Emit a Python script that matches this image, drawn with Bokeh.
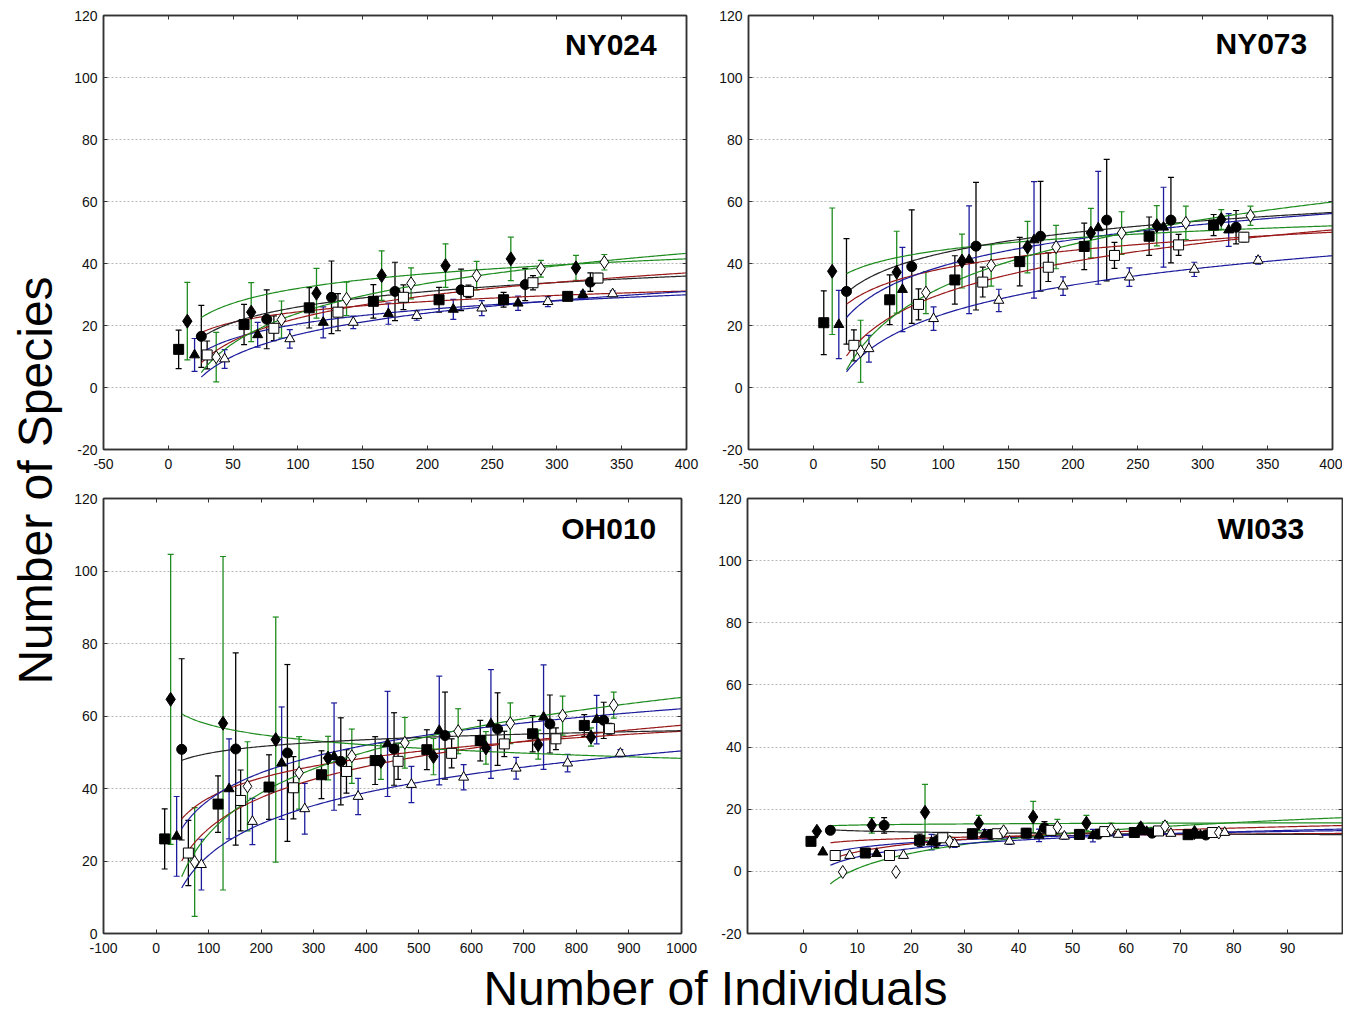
import numpy as np
from math import pi
from bokeh.plotting import figure
from bokeh.models import ColumnDataSource, Whisker, TeeHead, Range1d, FixedTicker, Label, LinearAxis
from bokeh.layouts import row, column
from bokeh.embed import file_html
from bokeh.resources import INLINE
from bokeh.core.properties import value

# ---------------- data ----------------
# series keys: FSQ = filled square, FTRI = filled triangle, FDIA = filled diamond,
# FCIR = filled circle, OSQ = open square, ODIA = open diamond, OTRI = open triangle

# NY024
NY024_FSQ_X = [8, 58.5, 108.8, 158.3, 209, 258.8, 308.3]
NY024_FSQ_Y = [12.3, 20.3, 25.7, 27.8, 28.3, 28.3, 29.4]
NY024_FSQ_E = [6.2, 6.5, 6.5, 5.4, 4, 2.4, 0]
NY024_FTRI_X = [20.3, 69, 119.6, 169.9, 220, 270, 320]
NY024_FTRI_Y = [10.5, 17, 21, 23.8, 25.2, 27.2, 30]
NY024_FTRI_E = [5.3, 4, 5, 3.4, 3.2, 2.3, 1]
NY024_FDIA_X = [14.7, 64, 114.4, 164.7, 214, 264.4, 314.7]
NY024_FDIA_Y = [21.4, 24.3, 30.4, 36.1, 39.3, 41.5, 38.6]
NY024_FDIA_E = [12.5, 9.5, 8, 8, 7, 7, 4]
NY024_FCIR_X = [25.5, 76, 126, 175, 226, 275.5, 325.8]
NY024_FCIR_Y = [16.5, 22, 29.1, 31, 31.5, 33.2, 34]
NY024_FCIR_E = [10, 9.5, 11.7, 9.4, 6.7, 5.2, 3]
NY024_OSQ_X = [30, 81.5, 131, 181.5, 231.7, 281.5, 331.7]
NY024_OSQ_Y = [10.5, 19.1, 24.3, 29.1, 31, 33.8, 35.3]
NY024_OSQ_E = [4.5, 4, 6, 4, 2, 2.3, 1.5]
NY024_ODIA_X = [37, 87.4, 137.6, 187.4, 238, 287.6, 336.6]
NY024_ODIA_Y = [9.8, 21.9, 28.6, 33.6, 36.1, 38.3, 40.4]
NY024_ODIA_E = [8, 6, 5.4, 5, 4.6, 2.7, 2.5]
NY024_OTRI_X = [43.5, 93.8, 142.8, 191.8, 242, 293, 343]
NY024_OTRI_Y = [9.2, 15.7, 21, 23.2, 25.6, 27.7, 30.2]
NY024_OTRI_E = [3, 3, 2, 1.5, 2.4, 1.6, 1]

# NY073
NY073_FSQ_X = [8, 58.8, 109, 159, 208.7, 258.7, 308.4]
NY073_FSQ_Y = [20.9, 28.3, 34.7, 40.6, 45.5, 48.8, 52.4]
NY073_FSQ_E = [10.3, 8, 7.8, 7.8, 7.5, 6.2, 3.4]
NY073_FTRI_X = [19.6, 68.6, 120, 170, 219.5, 269.8, 320]
NY073_FTRI_Y = [20.3, 31.6, 41.2, 47.6, 51.5, 51.7, 50.8]
NY073_FTRI_E = [11, 13.6, 17.4, 18.8, 18.2, 12.9, 5.3]
NY073_FDIA_X = [14.5, 64.2, 114.5, 165, 213.8, 264.6, 314.3]
NY073_FDIA_Y = [37.5, 37.2, 40.8, 45.3, 49.8, 52.2, 54.2]
NY073_FDIA_E = [20.4, 13.2, 8.7, 8.3, 8, 6.5, 3.2]
NY073_FCIR_X = [25.5, 75.8, 125.3, 175, 226, 275.5, 325.7]
NY073_FCIR_Y = [31, 39, 45.6, 48.8, 54, 54, 51.7]
NY073_FCIR_E = [17, 18.3, 20.6, 17.7, 19.6, 13.8, 5.4]
NY073_OSQ_X = [31.2, 81, 130.5, 181, 232, 281.4, 331.7]
NY073_OSQ_Y = [13.6, 26.8, 34, 38.8, 42.6, 46, 48.5]
NY073_OSQ_E = [5, 5, 4.8, 4.6, 4.2, 3.4, 1.5]
NY073_ODIA_X = [36.4, 86.7, 137, 187, 237.5, 287, 336.8]
NY073_ODIA_Y = [11.7, 30.6, 39.4, 45.3, 49.8, 53.1, 55.4]
NY073_ODIA_E = [10, 6.8, 6.7, 7, 6.9, 5.4, 3.1]
NY073_OTRI_X = [42.8, 92.6, 142.9, 192.4, 243.5, 293.5, 342.7]
NY073_OTRI_Y = [12.5, 22.2, 28.1, 32.7, 35.6, 38.1, 41]
NY073_OTRI_E = [4.3, 3.8, 3.6, 3, 3, 2.3, 1.2]

# OH010
OH010_FSQ_X = [16.4, 118, 215, 314.8, 417, 515.4, 617, 716.6, 815]
OH010_FSQ_Y = [26.1, 35.7, 40.4, 43.8, 47.7, 50.7, 53.2, 55.1, 57.4]
OH010_FSQ_E = [8.3, 7.8, 8.9, 6.6, 6.6, 5.5, 5.6, 5, 3]
OH010_FTRI_X = [39.2, 139, 239, 338.8, 440.6, 539, 637.3, 737.5, 838.6]
OH010_FTRI_Y = [26.8, 39.9, 47, 48.8, 52.3, 56, 57.8, 59.7, 59]
OH010_FTRI_E = [11, 13.8, 15.5, 14.8, 14.5, 15, 15, 14.4, 6.7]
OH010_FDIA_X = [27.8, 127.5, 227.8, 327.4, 428, 528, 627.8, 727.3, 827.8]
OH010_FDIA_Y = [64.6, 58, 53.5, 48.4, 47.5, 48.8, 51.2, 52.1, 54.2]
OH010_FDIA_E = [40, 46, 33.8, 6, 5, 5, 4.5, 4, 2.5]
OH010_FCIR_X = [48.8, 151.6, 250, 351.6, 453, 550, 650, 749.5, 852]
OH010_FCIR_Y = [50.8, 50.9, 49.8, 47.5, 50.9, 54.6, 56.4, 57.8, 58.8]
OH010_FCIR_E = [25, 26.5, 24.4, 12, 10, 12, 10, 8, 5]
OH010_OSQ_X = [61.5, 161, 261.5, 362.4, 460.7, 562.5, 662.8, 761, 862.8]
OH010_OSQ_Y = [22.2, 36.7, 40.2, 44.7, 47.5, 49.7, 52.3, 53.7, 56.5]
OH010_OSQ_E = [9, 8.4, 8.6, 6, 5, 4, 3.5, 3, 1.5]
OH010_ODIA_X = [73.5, 174, 272.2, 372.6, 473.5, 575, 674.3, 773.7, 871]
OH010_ODIA_Y = [19.7, 40.6, 44.3, 48.9, 52.6, 55.8, 58, 60.1, 63]
OH010_ODIA_E = [15, 12.3, 10, 7.5, 7, 6.2, 5.6, 5.4, 3.6]
OH010_OTRI_X = [86.3, 183.4, 283, 384.6, 486, 585.4, 685.3, 783.2, 883.7]
OH010_OTRI_Y = [19, 30.9, 34.4, 37.8, 41.1, 43.1, 45.6, 47, 49.7]
OH010_OTRI_E = [7, 6.4, 7, 5, 5, 3.5, 3, 2.4, 1]

# WI033
WI033_FSQ_X = [1.4, 11.5, 21.6, 31.4, 41.4, 51.3, 61.5, 71.5]
WI033_FSQ_Y = [9.65, 5.9, 10, 12.1, 12.3, 11.9, 12.5, 11.8]
WI033_FSQ_E = [0, 0, 2, 1.5, 1.5, 1.5, 1, 0.5]
WI033_FTRI_X = [3.6, 13.6, 23.8, 33.7, 43.8, 53.8, 63.8, 73.8]
WI033_FTRI_Y = [6.2, 5.7, 9.4, 11.9, 11.6, 11.5, 12.8, 11.6]
WI033_FTRI_E = [0, 0, 2.5, 1.5, 2, 2, 1, 0.5]
WI033_FDIA_X = [2.5, 12.7, 22.6, 32.6, 42.7, 52.6, 62.7, 72.7]
WI033_FDIA_Y = [12.9, 14.8, 19, 15.5, 17.5, 15.5, 14, 12.5]
WI033_FDIA_E = [0, 2.5, 9, 2.5, 5, 2.5, 1.5, 0.8]
WI033_FCIR_X = [5, 15, 24.7, 34.8, 44.8, 54.8, 64.8, 74.8]
WI033_FCIR_Y = [13.2, 14.8, 9.7, 11.9, 14, 12, 12.3, 11.7]
WI033_FCIR_E = [0, 2.5, 2, 1.5, 2, 1.5, 1, 0.5]
WI033_OSQ_X = [5.9, 16, 25.9, 36, 46, 56, 66, 76]
WI033_OSQ_Y = [5.1, 5.1, 10.8, 12.1, 13.2, 12.8, 13, 12.5]
WI033_OSQ_E = [0, 0, 1, 1, 1, 1, 0.8, 0.5]
WI033_ODIA_X = [7.3, 17.2, 27.2, 37.2, 47.2, 57.2, 67.2, 77.2]
WI033_ODIA_Y = [-0.2, -0.2, 9.5, 12.9, 14.2, 13.5, 14.5, 12.5]
WI033_ODIA_E = [0, 0, 1.5, 1, 2.5, 2, 1.5, 0.6]
WI033_OTRI_X = [8.6, 18.6, 28.1, 38.3, 48.5, 58.5, 68.3, 78.3]
WI033_OTRI_Y = [5.1, 5.1, 8.9, 9.7, 11.3, 11.9, 12.2, 12.5]
WI033_OTRI_E = [0, 0, 1.2, 1, 1, 0.8, 0.6, 0.4]

# axis ticks
TICKS_X_NY = [-50, 0, 50, 100, 150, 200, 250, 300, 350, 400]
TICKS_X_OH = [-100, 0, 100, 200, 300, 400, 500, 600, 700, 800, 900, 1000]
TICKS_X_WI = [0, 10, 20, 30, 40, 50, 60, 70, 80, 90]
TICKS_Y_A = [-20, 0, 20, 40, 60, 80, 100, 120]
TICKS_Y_B = [0, 20, 40, 60, 80, 100, 120]

# ---------------- styles ----------------
GREEN = "#1e8c1e"
BLUE = "#1c1c9c"
RED = "#9a1a1a"
BLACK = "#000000"
CURVE_BLACK = "#262626"
FRAME = "#333333"
FONT = "Liberation Sans"

STYLE = {
    "FSQ": dict(marker="square", size=10, fill=BLACK, err=BLACK, curve=RED),
    "FTRI": dict(marker="triangle", size=10, fill=BLACK, err=BLUE, curve=BLUE),
    "FDIA": dict(marker="diamond", size=14, fill=BLACK, err=GREEN, curve=GREEN),
    "FCIR": dict(marker="circle", size=10, fill=BLACK, err=BLACK, curve=CURVE_BLACK),
    "OSQ": dict(marker="square", size=10, fill="white", err=BLACK, curve=RED),
    "ODIA": dict(marker="diamond", size=13, fill="white", err=GREEN, curve=GREEN),
    "OTRI": dict(marker="triangle", size=10, fill="white", err=BLUE, curve=BLUE),
}
ORDER = ["FSQ", "FTRI", "FDIA", "FCIR", "OSQ", "ODIA", "OTRI"]


def get_data(prefix):
    g = globals()
    return {k: (g[f"{prefix}_{k}_X"], g[f"{prefix}_{k}_Y"], g[f"{prefix}_{k}_E"]) for k in ORDER}


def plain_labels(ticks):
    return {t: str(t) for t in ticks}


def panel(name, xr, yr, xticks, yticks, w, h, bl, br, bt, bb, title_x, title_y):
    data = get_data(name)
    p = figure(width=w, height=h, x_range=Range1d(*xr), y_range=Range1d(*yr),
               output_backend="svg", toolbar_location=None,
               min_border_left=bl, min_border_right=br, min_border_top=bt, min_border_bottom=bb,
               background_fill_color="white", border_fill_color="white")
    xa = p.below[0]
    ya = p.left[0]
    xa.ticker = FixedTicker(ticks=xticks)
    ya.ticker = FixedTicker(ticks=yticks)
    xa.major_label_overrides = plain_labels(xticks)
    ya.major_label_overrides = plain_labels(yticks)
    for ax in (xa, ya):
        ax.major_label_text_font = FONT
        ax.major_label_text_font_size = "14px"
        ax.major_label_text_color = "#111111"
    ya.major_label_standoff = 6
    xa.major_label_standoff = 9
    # mirror ticks on the top and right edges
    p.add_layout(LinearAxis(ticker=FixedTicker(ticks=xticks), major_label_text_alpha=0,
                            major_label_text_font_size="1px", major_label_standoff=0), "above")
    p.add_layout(LinearAxis(ticker=FixedTicker(ticks=yticks), major_label_text_alpha=0,
                            major_label_text_font_size="1px", major_label_standoff=0), "right")
    p.axis.major_tick_in = 4
    p.axis.major_tick_out = 0
    p.axis.minor_tick_line_color = None
    p.axis.axis_line_color = FRAME
    p.axis.axis_line_width = 1.5
    p.axis.major_tick_line_color = FRAME
    p.xgrid.grid_line_color = None
    p.ygrid.grid_line_color = "#b8b8b8"
    p.ygrid.grid_line_dash = "2 2"
    p.outline_line_color = FRAME
    p.outline_line_width = 1.5
    p.outline_line_alpha = 1

    # error bars
    for k in ORDER:
        x, y, e = data[k]
        st = STYLE[k]
        src = ColumnDataSource(dict(x=x, y=y,
                                    lo=[a - b for a, b in zip(y, e)],
                                    hi=[a + b for a, b in zip(y, e)]))
        wk = Whisker(source=src, base="x", lower="lo", upper="hi",
                     line_color=st["err"], line_width=1.3,
                     upper_head=TeeHead(size=6, line_color=st["err"], line_width=1.2),
                     lower_head=TeeHead(size=6, line_color=st["err"], line_width=1.2))
        p.add_layout(wk)

    # fitted logarithmic curves (least squares on the series values)
    x_start = min(data["FCIR"][0])
    xs = np.linspace(x_start, xr[1], 300)
    for k in ORDER:
        x, y, e = data[k]
        b, a = np.polyfit(np.log(np.array(x, dtype=float)), np.array(y, dtype=float), 1)
        p.line(xs, a + b * np.log(xs), line_color=STYLE[k]["curve"], line_width=1.2)

    # markers
    for k in ORDER:
        x, y, e = data[k]
        st = STYLE[k]
        p.scatter(x, y, marker=st["marker"], size=st["size"], fill_color=st["fill"],
                  line_color=BLACK, line_width=1)

    p.add_layout(Label(x=title_x, y=title_y, text=name, text_align="right",
                       text_baseline="middle", text_font=FONT, text_font_style="bold",
                       text_font_size="30px", text_color="#000000"))
    return p


p1 = panel("NY024", (-50, 400), (-20, 120), TICKS_X_NY, TICKS_Y_A,
           636, 490, 39, 14, 14, 41, 377, 110.7)
p2 = panel("NY073", (-50, 400), (-20, 120), TICKS_X_NY, TICKS_Y_A,
           642, 490, 48, 10, 15, 40, 380.5, 111)
p3 = panel("OH010", (-100, 1000), (0, 120), TICKS_X_OH, TICKS_Y_B,
           636, 470, 39, 19, 8, 27, 952, 111.7)
p4 = panel("WI033", (-10.4, 100.2), (-20, 120), TICKS_X_WI, TICKS_Y_A,
           643, 470, 47, 1, 8, 27, 93.1, 110.3)

# outer axis titles
left = figure(width=64, height=1016, x_range=Range1d(0, 64), y_range=Range1d(0, 1016),
              output_backend="svg", toolbar_location=None, x_axis_type=None, y_axis_type=None,
              min_border=0, outline_line_color=None)
left.grid.visible = False
left.text(x=[35], y=[536], text=["Number of Species"], angle=pi / 2,
          text_align="center", text_baseline="middle", text_font=value(FONT),
          text_font_size="48px", text_color="#000000")

bottom = figure(width=1279, height=56, x_range=Range1d(0, 1279), y_range=Range1d(0, 56),
                output_backend="svg", toolbar_location=None, x_axis_type=None, y_axis_type=None,
                min_border=0, outline_line_color=None)
bottom.grid.visible = False
bottom.text(x=[651], y=[28], text=["Number of Individuals"],
            text_align="center", text_baseline="middle", text_font=value(FONT),
            text_font_size="48px", text_color="#000000")

layout = row(left, column(row(p1, p2), row(p3, p4), bottom))

open("out.html", "w").write(file_html(layout, INLINE))
